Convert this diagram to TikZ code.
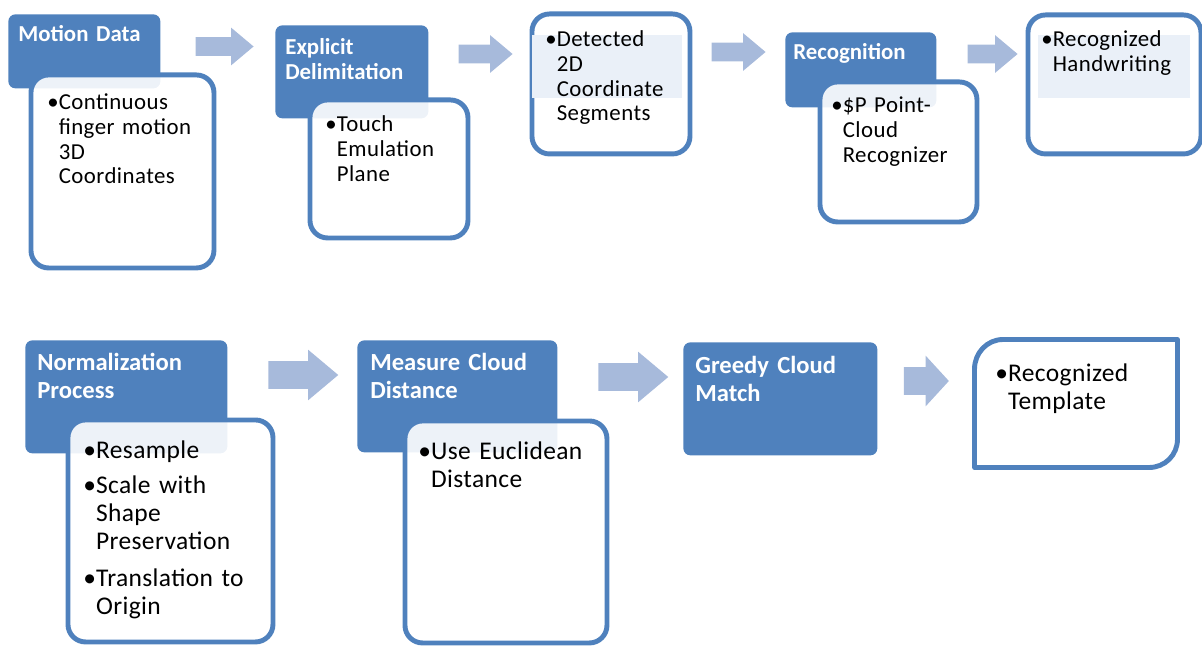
\documentclass[tikz,border=0pt]{standalone}
\usepackage{fontspec}
\setmainfont{Carlito}
\usetikzlibrary{shapes.arrows}
\definecolor{hdrblue}{HTML}{4F81BD}
\definecolor{arrblue}{HTML}{A7BADB}
\definecolor{tintblue}{HTML}{EAF0F8}
\newdimen\px \px=0.02cm
\newcommand{\bl}[1]{\makebox[0.5em][l]{•}\begin{tabular}[t]{@{}l@{}}#1\end{tabular}}

\begin{document}
\begin{tikzpicture}[x=0.02cm, y=-0.02cm]
            \tikzset{
                header/.style={rectangle, rounded corners=4pt, fill=hdrblue, anchor=north west, inner sep=0pt},
                body/.style={rectangle, rounded corners=10pt, draw=hdrblue, line width=2.8pt, fill=white, fill opacity=0.9, anchor=north west, inner sep=0pt},
                tint/.style={rectangle, fill=tintblue, anchor=north west, inner sep=0pt},
                htext/.style={anchor=base west, inner sep=0pt, text width=4cm, align=left, text=white, font=\bfseries\fontsize{13}{14.2}\selectfont},
                hbig/.style={htext, font=\bfseries\fontsize{14}{16.4}\selectfont},
                btext/.style={anchor=base west, inner sep=0pt, text width=4.5cm, align=left, font=\fontsize{13}{14}\selectfont\addfontfeatures{LetterSpace=2}},
                bbig/.style={btext, font=\fontsize{14.5}{16}\selectfont\addfontfeatures{LetterSpace=1.5}},
                flow/.style={single arrow, fill=arrblue, inner xsep=0pt, inner ysep=9\px, single arrow head extend=9.5\px, single arrow tip angle=80, minimum height=54\px},
                flowbig/.style={flow, inner ysep=13.5\px, single arrow head extend=11.5\px, minimum height=70\px}
            };
            \useasboundingbox (0,0) rectangle (1202,645);
            % top row
            \node[header, minimum width=152\px, minimum height=74\px] (hmotion) at (8,14) {};
            \node[body, minimum width=183\px, minimum height=193\px] (bmotion) at (28.5,72.5) {};
            \node[htext] (tmotion) at (18,42) {Motion Data};
            \node[btext] (lmotion) at (47,110) {\bl{Continuous\\ finger motion\\ 3D\\ Coordinates}};
            \node[flow, minimum height=58\px] (a1) at (219,46.5) {};
            \node[header, minimum width=153\px, minimum height=93\px] (hexplicit) at (275,25) {};
            \node[body, minimum width=158\px, minimum height=138\px] (bexplicit) at (307.5,97.5) {};
            \node[htext] (texplicit) at (285,55) {Explicit\\Delimitation};
            \node[btext] (lexplicit) at (325,132) {\bl{Touch\\ Emulation\\ Plane}};
            \node[flow] (a2) at (480,54) {};
            \node[body, minimum width=158\px, minimum height=140\px] (bdetected) at (529.5,11.5) {};
            \node[tint, minimum width=150\px, minimum height=63\px] (tdetected) at (532,35) {};
            \node[btext] (ldetected) at (545,47) {\bl{Detected\\ 2D\\ Coordinate\\ Segments}};
            \node[flow] (a3) at (733,52) {};
            \node[header, minimum width=151\px, minimum height=75\px] (hrecog) at (785,32) {};
            \node[body, minimum width=157\px, minimum height=140\px] (brecog) at (817.5,79.5) {};
            \node[htext] (trecog) at (793,60) {Recognition};
            \node[btext] (lrecog) at (831,113) {\bl{\$P Point-\\ Cloud\\ Recognizer}};
            \node[flow, minimum height=50\px] (a4) at (987,54) {};
            \node[body, minimum width=173\px, minimum height=139\px] (bhand) at (1025.5,12.5) {};
            \node[tint, minimum width=152\px, minimum height=63\px] (thand) at (1038,35) {};
            \node[btext] (lhand) at (1041,47) {\bl{Recognized\\ Handwriting}};
            % bottom row
            \node[header, minimum width=202\px, minimum height=113\px] (hnorm) at (25,340) {};
            \node[body, minimum width=205\px, minimum height=222\px] (bnorm) at (65.5,417.5) {};
            \node[hbig] (tnorm) at (37,370) {Normalization\\Process};
            \node[bbig] (lnorm) at (83,458) {\bl{Resample}\\[4pt]\bl{Scale with\\ Shape\\ Preservation}\\[4pt]\bl{Translation to\\ Origin}};
            \node[flowbig] (a5) at (295,375) {};
            \node[header, minimum width=200\px, minimum height=112\px] (hmeas) at (357,340) {};
            \node[body, minimum width=202\px, minimum height=222\px] (bmeas) at (402.5,418.5) {};
            \node[hbig] (tmeas) at (370,370) {Measure Cloud\\Distance};
            \node[bbig] (lmeas) at (418,459) {\bl{Use Euclidean\\ Distance}};
            \node[flowbig] (a6) at (625,377) {};
            \node[header, minimum width=194\px, minimum height=113\px] (hgreedy) at (683,342) {};
            \node[hbig] (tgreedy) at (695,373) {Greedy Cloud\\Match};
            \node[flowbig, minimum height=45\px, single arrow tip angle=95] (a7) at (920,381) {};
            \draw[hdrblue, line width=2.8pt, line join=round] (974.5,467.5) -- (974.5,369) .. controls (974.5,353) and (987,339.5) .. (1003,339.5) -- (1177.5,339.5) -- (1177.5,439) .. controls (1177.5,455) and (1165,467.5) .. (1149,467.5) -- cycle;
            \node[bbig] (ltemplate) at (995,381) {\bl{Recognized\\ Template}};
        \end{tikzpicture}
\end{document}
